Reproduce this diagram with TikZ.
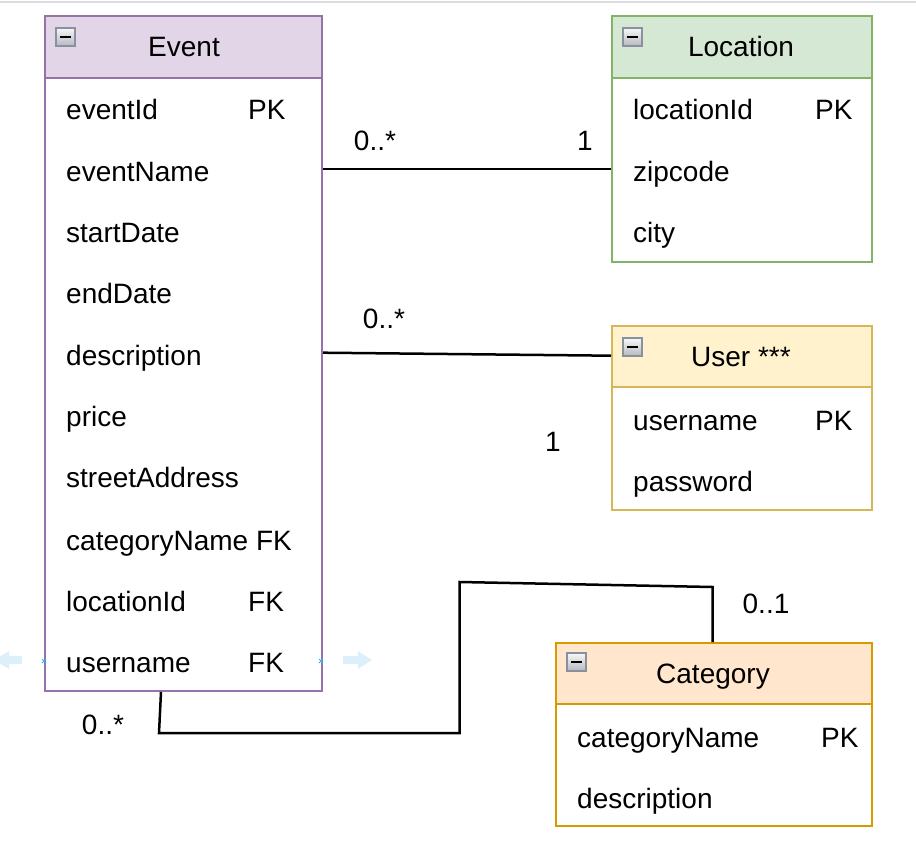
\documentclass[tikz,border=0pt]{standalone}
\usepackage{fontspec}
\setmainfont{Liberation Sans}
\definecolor{evF}{HTML}{E1D5E7}\definecolor{evD}{HTML}{9673A6}
\definecolor{loF}{HTML}{D5E8D4}\definecolor{loD}{HTML}{82B366}
\definecolor{usF}{HTML}{FFF2CC}\definecolor{usD}{HTML}{D6B656}
\definecolor{caF}{HTML}{FFE6CC}\definecolor{caD}{HTML}{D79B00}
\definecolor{hoverA}{HTML}{DCEFFB}\definecolor{hoverX}{HTML}{29B6F2}
\definecolor{topline}{HTML}{DADCE0}
\definecolor{icoF}{HTML}{C9CDD4}\definecolor{icoD}{HTML}{8A919E}
\begin{document}
\begin{tikzpicture}[x=1pt,y=-1pt,
  font=\fontsize{28}{34}\selectfont,
  boxbody/.style={draw, line width=2pt, fill=white, anchor=north west, inner sep=0pt},
  boxhead/.style={draw, line width=2pt, anchor=north west, inner sep=0pt},
  ttl/.style={anchor=base, inner sep=0pt},
  attr/.style={anchor=base west, inner sep=0pt},
  lbl/.style={anchor=base, inner sep=0pt},
  conn/.style={line width=2.5pt, black},
  hov/.style={fill=hoverA, draw=none},
  hx/.style={draw=hoverX, line width=1pt}]
\useasboundingbox (0,0) rectangle (916,856);
\draw[topline, line width=1.5pt] (0,2) -- (916,2);

% icon macro
\newcommand\minusicon[2]{%
  \shade[top color=white!85!icoF, bottom color=icoF!90!black, draw=icoD, line width=1.5pt]
    (#1+1,#2+1) rectangle (#1+20,#2+19);
  \draw[line width=2.5pt] (#1+5,#2+10) -- (#1+16,#2+10);}

% ---------- Event ----------
\node[boxbody, draw=evD, minimum width=277pt, minimum height=675pt] (ev) at (44,15) {};
\node[boxhead, draw=evD, fill=evF, minimum width=277pt, minimum height=62pt] (evh) at (44,15) {};
\minusicon{55}{27}
\node[ttl] (evt) at (184,57) {Event};
\node[attr] (e1) at (66,120) {eventId};
\node[attr] (e1k) at (248,120) {PK};
\node[attr] (e2) at (66,181.3) {eventName};
\node[attr] (e3) at (66,242.6) {startDate};
\node[attr] (e4) at (66,303.9) {endDate};
\node[attr] (e5) at (66,365.2) {description};
\node[attr] (e6) at (66,426.5) {price};
\node[attr] (e7) at (66,487.8) {streetAddress};
\node[attr] (e8) at (66,550.1) {categoryName FK};
\node[attr] (e9) at (66,611.4) {locationId};
\node[attr] (e9k) at (248,611.4) {FK};
\node[attr] (e10) at (66,672.7) {username};
\node[attr] (e10k) at (248,672.7) {FK};

% ---------- Location ----------
\node[boxbody, draw=loD, minimum width=260pt, minimum height=246pt] (lo) at (611,15) {};
\node[boxhead, draw=loD, fill=loF, minimum width=260pt, minimum height=62pt] (loh) at (611,15) {};
\minusicon{622}{27}
\node[ttl] (lot) at (741,57) {Location};
\node[attr] (l1) at (633,120) {locationId};
\node[attr] (l1k) at (815,120) {PK};
\node[attr] (l2) at (633,181.3) {zipcode};
\node[attr] (l3) at (633,242.6) {city};

% ---------- User ----------
\node[boxbody, draw=usD, minimum width=260pt, minimum height=184pt] (us) at (611,325) {};
\node[boxhead, draw=usD, fill=usF, minimum width=260pt, minimum height=61pt] (ush) at (611,325) {};
\minusicon{622}{337}
\node[ttl] (ust) at (741,366.7) {User ***};
\node[attr] (u1) at (633,430.5) {username};
\node[attr] (u1k) at (815,430.5) {PK};
\node[attr] (u2) at (633,491.5) {password};

% ---------- Category ----------
\node[boxbody, draw=caD, minimum width=316pt, minimum height=183pt] (ca) at (555,642) {};
\node[boxhead, draw=caD, fill=caF, minimum width=316pt, minimum height=61pt] (cah) at (555,642) {};
\minusicon{566}{652}
\node[ttl] (cat) at (713,683.5) {Category};
\node[attr] (c1) at (577,747) {categoryName};
\node[attr] (c1k) at (821,747) {PK};
\node[attr] (c2) at (577,808) {description};

% ---------- Connectors ----------
\draw[conn] (ev.east |- 0,169) -- (lo.west |- 0,169);
\node[lbl] (m1) at (375,150) {0..*};
\node[lbl] (m2) at (585,150) {1};

\draw[conn] (ev.east |- 0,352.7) -- (us.west |- 0,355.7);
\node[lbl] (m3) at (384,328) {0..*};
\node[lbl] (m4) at (553,451) {1};

\coordinate (k1) at (159,733);
\coordinate (k2) at (459.5,733);
\coordinate (k3) at (459.5,582);
\coordinate (k4) at (712.5,587);
\draw[conn, line join=miter] (ev.south -| 161,0) -- (k1) -- (k2) -- (k3) -- (k4) -- (ca.north -| 712.5,0);
\node[lbl] (m5) at (766,613) {0..1};
\node[lbl] (m6) at (103,734) {0..*};

% ---------- hover handles ----------
\fill[hov] (-6,660) -- (9,651) -- (9,656) -- (22,656) -- (22,664) -- (9,664) -- (9,669) -- cycle;
\fill[hov] (372,660) -- (358,651) -- (358,656) -- (343,656) -- (343,664) -- (358,664) -- (358,669) -- cycle;
\draw[hx] (42,659) -- (46,663) (42,663) -- (46,659);
\draw[hx] (319,659) -- (323,663) (319,663) -- (323,659);
\end{tikzpicture}
\end{document}
